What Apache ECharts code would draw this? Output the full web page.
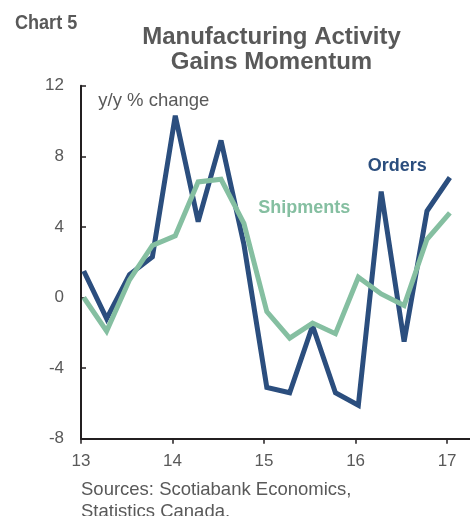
<!DOCTYPE html>
<html>
<head>
<meta charset="utf-8">
<style>
  html, body { margin: 0; padding: 0; background: #ffffff; }
  #chart { width: 470px; height: 516px; }
</style>
<script src="https://cdn.jsdelivr.net/npm/echarts@6/dist/echarts.min.js"></script>
</head>
<body>
<div id="chart"></div>
<script>
// Quarterly observations, positioned in fractional years (13 = 2013)
const quarters = [13.03, 13.28, 13.53, 13.78, 14.03, 14.28, 14.53, 14.78,
                  15.03, 15.28, 15.53, 15.78, 16.03, 16.28, 16.53, 16.78, 17.03];

// Year-over-year % change
const orders    = [1.5, -1.2, 1.3, 2.3, 10.3, 4.3, 8.9, 3.0,
                   -5.1, -5.4, -1.6, -5.4, -6.1, 6.0, -2.5, 4.9, 6.8];
const shipments = [0.0, -1.9, 1.0, 2.95, 3.5, 6.55, 6.7, 4.2,
                   -0.8, -2.3, -1.45, -2.05, 1.15, 0.2, -0.45, 3.3, 4.8];

const yearTicks = [13, 14, 15, 16, 17];
const yTicks = { min: -8, max: 12, step: 4 };

const NAVY = '#2B4E7E';
const GREEN = '#85BFA1';
const GREY = '#595959';
const AXIS = '#231F20';
const FONT = '"Liberation Sans", Arial, sans-serif';

const pair = (xs, ys) => xs.map((x, i) => [x, ys[i]]);

const chart = echarts.init(document.getElementById('chart'), null, { renderer: 'canvas' });

chart.setOption({
  animation: false,
  backgroundColor: '#ffffff',
  grid: { left: 81, right: 0, top: 85.7, bottom: 77.3, containLabel: false },
  xAxis: {
    type: 'value',
    min: 13,
    max: 17.25,
    interval: 1,
    splitLine: { show: false },
    axisLine: { show: true, onZero: false, lineStyle: { color: AXIS, width: 2 } },
    axisTick: { show: true, inside: false, length: 5, customValues: yearTicks,
                lineStyle: { color: AXIS, width: 1.5 } },
    axisLabel: { customValues: yearTicks, color: GREY, fontFamily: FONT, fontSize: 17, margin: 14 }
  },
  yAxis: {
    type: 'value',
    min: yTicks.min,
    max: yTicks.max,
    interval: yTicks.step,
    splitLine: { show: false },
    axisLine: { show: true, onZero: false, lineStyle: { color: AXIS, width: 2 } },
    axisTick: { show: true, inside: true, length: 5, lineStyle: { color: AXIS, width: 1.5 } },
    axisLabel: { color: GREY, fontFamily: FONT, fontSize: 17, margin: 17 }
  },
  series: [
    {
      name: 'Orders',
      type: 'line',
      data: pair(quarters, orders),
      showSymbol: false,
      symbol: 'none',
      lineStyle: { color: NAVY, width: 5, join: 'miter', miterLimit: 3 },
      z: 2
    },
    {
      name: 'Shipments',
      type: 'line',
      data: pair(quarters, shipments),
      showSymbol: false,
      symbol: 'none',
      lineStyle: { color: GREEN, width: 5, join: 'miter', miterLimit: 3 },
      z: 3
    }
  ],
  graphic: [
    {
      // condensed bold caption: regular bold face squeezed horizontally
      type: 'text', x: 15, y: 12.5, scaleX: 0.86, scaleY: 1,
      style: { text: 'Chart 5', fill: GREY, fontFamily: FONT,
               fontWeight: 'bold', fontSize: 21, verticalAlign: 'top' }
    },
    {
      type: 'text', x: 271.5, y: 25.3,
      style: { text: 'Manufacturing Activity\nGains Momentum', fill: GREY, fontFamily: FONT,
               fontWeight: 'bold', fontSize: 24, lineHeight: 24.5, align: 'center', verticalAlign: 'top' }
    },
    {
      type: 'text', x: 98.3, y: 91.7,
      style: { text: 'y/y % change', fill: GREY, fontFamily: FONT, fontSize: 18.5, verticalAlign: 'top' }
    },
    {
      type: 'text', x: 367.7, y: 157,
      style: { text: 'Orders', fill: NAVY, fontFamily: FONT, fontWeight: 'bold', fontSize: 18, verticalAlign: 'top' }
    },
    {
      type: 'text', x: 258.3, y: 198.7,
      style: { text: 'Shipments', fill: GREEN, fontFamily: FONT, fontWeight: 'bold', fontSize: 18, verticalAlign: 'top' }
    },
    {
      type: 'text', x: 81, y: 479.2,
      style: { text: 'Sources: Scotiabank Economics,\nStatistics Canada.', fill: GREY, fontFamily: FONT,
               fontSize: 18.5, lineHeight: 21.5, verticalAlign: 'top' }
    }
  ]
});
</script>
</body>
</html>
